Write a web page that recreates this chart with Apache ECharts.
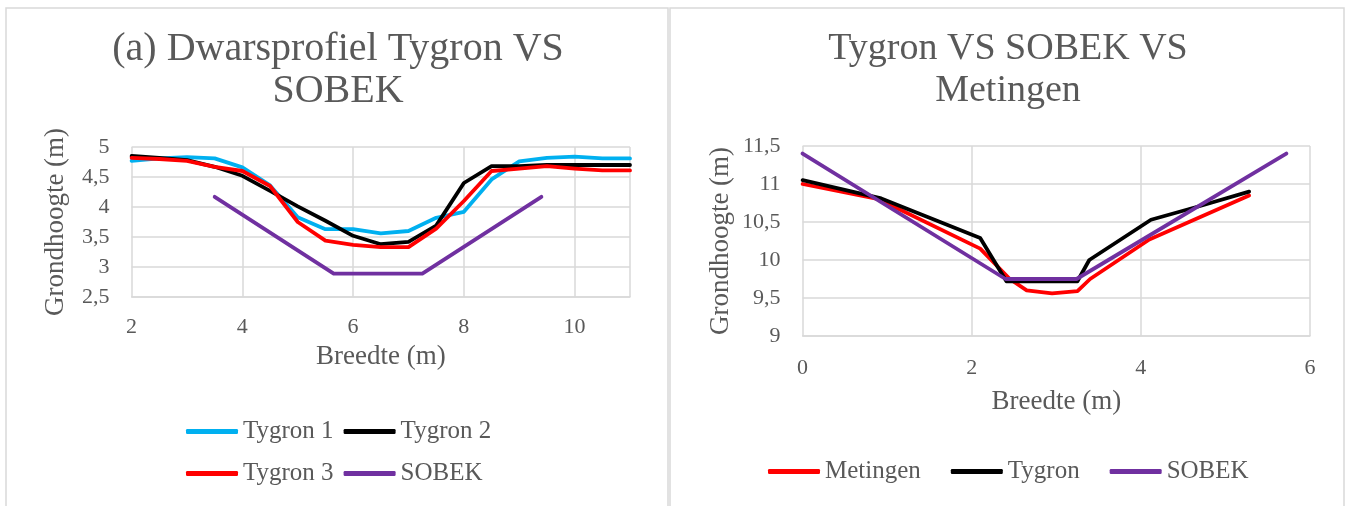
<!DOCTYPE html>
<html>
<head>
<meta charset="utf-8">
<title>Dwarsprofiel Tygron VS SOBEK</title>
<script src="https://cdn.jsdelivr.net/npm/echarts@6/dist/echarts.min.js"></script>
<style>
  html, body { margin: 0; padding: 0; background: #fff; }
  #chart { width: 1347px; height: 506px; }
</style>
</head>
<body>
<div id="chart"></div>
<script>
// (a) left chart: cross sections, one point every 0.5 m
const breedteA = [2, 2.5, 3, 3.5, 4, 4.5, 5, 5.5, 6, 6.5, 7, 7.5, 8, 8.5, 9, 9.5, 10, 10.5, 11];
const tygron1 = [4.77, 4.81, 4.83, 4.81, 4.66, 4.36, 3.83, 3.63, 3.63, 3.56, 3.6, 3.82, 3.92, 4.46, 4.76, 4.82, 4.84, 4.81, 4.81];
const tygron2 = [4.85, 4.82, 4.78, 4.67, 4.52, 4.27, 4.01, 3.77, 3.52, 3.38, 3.42, 3.69, 4.4, 4.68, 4.68, 4.7, 4.7, 4.7, 4.7];
const tygron3 = [4.82, 4.8, 4.77, 4.67, 4.6, 4.35, 3.75, 3.44, 3.37, 3.33, 3.33, 3.64, 4.1, 4.6, 4.64, 4.68, 4.64, 4.61, 4.61];
const sobekAX = [3.5, 5.65, 7.25, 9.4];
const sobekAY = [4.17, 2.89, 2.89, 4.17];

// right chart: Tygron vs SOBEK vs measurements
const metingenX = [0, 0.9, 2.1, 2.45, 2.65, 2.95, 3.25, 3.4, 4.1, 5.28];
const metingenY = [11.0, 10.8, 10.15, 9.75, 9.6, 9.56, 9.59, 9.75, 10.27, 10.85];
const tygronX = [0, 0.93, 2.1, 2.41, 3.25, 3.39, 4.12, 4.7, 5.28];
const tygronY = [11.05, 10.81, 10.29, 9.72, 9.72, 10.0, 10.53, 10.71, 10.9];
const sobekBX = [0, 2.4, 3.24, 5.72];
const sobekBY = [11.4, 9.75, 9.75, 11.4];

const textColor = '#595959';
const gridColor = '#d9d9d9';
const serif = '"Liberation Serif", "DejaVu Serif", serif';

function pairs(xs, ys) {
  return xs.map((x, i) => [x, ys[i]]);
}

function commaLabel(value) {
  return String(value).replace('.', ',');
}

function lineSeries(name, color, data, index) {
  return {
    name,
    type: 'line',
    xAxisIndex: index,
    yAxisIndex: index,
    data,
    symbol: 'none',
    showSymbol: false,
    itemStyle: { color },
    lineStyle: { color, width: 3.8, cap: 'round', join: 'round' },
    z: 3
  };
}

function valueAxis(opts) {
  return Object.assign({
    type: 'value',
    nameLocation: 'middle',
    nameTextStyle: { fontFamily: serif, fontSize: 27, color: textColor },
    axisLine: { show: false },
    axisTick: { show: false },
    splitLine: { show: true, lineStyle: { color: gridColor, width: 1.5 } },
    axisLabel: { fontFamily: serif, fontSize: 22, color: textColor, formatter: commaLabel }
  }, opts);
}

const legendText = { fontFamily: serif, fontSize: 25, color: textColor };
const legendBase = { orient: 'horizontal', icon: 'roundRect', itemWidth: 52, itemHeight: 5, padding: 0, textStyle: legendText };

const chart = echarts.init(document.getElementById('chart'));
chart.setOption({
  animation: false,
  backgroundColor: '#fff',
  title: [
    {
      text: '(a) Dwarsprofiel Tygron VS\nSOBEK',
      left: 338, top: 28, textAlign: 'center', padding: 0,
      textStyle: { fontFamily: serif, fontSize: 40, fontWeight: 'normal', color: textColor, lineHeight: 42 }
    },
    {
      text: 'Tygron VS SOBEK VS\nMetingen',
      left: 1008, top: 28, textAlign: 'center', padding: 0,
      textStyle: { fontFamily: serif, fontSize: 38, fontWeight: 'normal', color: textColor, lineHeight: 42 }
    }
  ],
  legend: [
    Object.assign({ data: ['Tygron 1', 'Tygron 2'], left: 186, top: 419, itemGap: 10 }, legendBase),
    Object.assign({ data: ['Tygron 3', 'SOBEK'], left: 186, top: 461, itemGap: 10 }, legendBase),
    Object.assign({ data: ['Metingen', 'Tygron', 'SOBEK'], left: 768, top: 459, itemGap: 30 }, legendBase)
  ],
  grid: [
    { left: 131.6, top: 147, width: 498.4, height: 150 },
    { left: 802.6, top: 146, width: 507.4, height: 190 }
  ],
  xAxis: [
    valueAxis({
      gridIndex: 0, min: 2, max: 11, interval: 2, name: 'Breedte (m)', nameGap: 46,
      axisLine: { show: true, lineStyle: { color: gridColor, width: 1.5 } },
      axisLabel: { fontFamily: serif, fontSize: 22, color: textColor, margin: 19, showMaxLabel: false, formatter: commaLabel }
    }),
    valueAxis({
      gridIndex: 1, min: 0, max: 6, interval: 2, name: 'Breedte (m)', nameGap: 52,
      axisLine: { show: true, lineStyle: { color: gridColor, width: 1.5 } },
      axisLabel: { fontFamily: serif, fontSize: 22, color: textColor, margin: 21, formatter: commaLabel }
    })
  ],
  yAxis: [
    valueAxis({
      gridIndex: 0, min: 2.5, max: 5, interval: 0.5, name: 'Grondhoogte (m)', nameGap: 62,
      axisLabel: { fontFamily: serif, fontSize: 22, color: textColor, margin: 22, formatter: commaLabel }
    }),
    valueAxis({
      gridIndex: 1, min: 9, max: 11.5, interval: 0.5, name: 'Grondhoogte (m)', nameGap: 68,
      axisLabel: { fontFamily: serif, fontSize: 22, color: textColor, margin: 22, formatter: commaLabel }
    })
  ],
  series: [
    lineSeries('Tygron 1', '#00b0f0', pairs(breedteA, tygron1), 0),
    lineSeries('Tygron 2', '#000000', pairs(breedteA, tygron2), 0),
    lineSeries('Tygron 3', '#ff0000', pairs(breedteA, tygron3), 0),
    lineSeries('SOBEK', '#7030a0', pairs(sobekAX, sobekAY), 0),
    lineSeries('Metingen', '#ff0000', pairs(metingenX, metingenY), 1),
    lineSeries('Tygron', '#000000', pairs(tygronX, tygronY), 1),
    lineSeries('SOBEK', '#7030a0', pairs(sobekBX, sobekBY), 1)
  ],
  graphic: [
    { type: 'rect', shape: { x: 6, y: 8, width: 662, height: 520 }, style: { fill: 'none', stroke: gridColor, lineWidth: 1.5 }, silent: true },
    { type: 'rect', shape: { x: 670, y: 8, width: 674, height: 520 }, style: { fill: 'none', stroke: gridColor, lineWidth: 1.5 }, silent: true }
  ]
});
</script>
</body>
</html>
